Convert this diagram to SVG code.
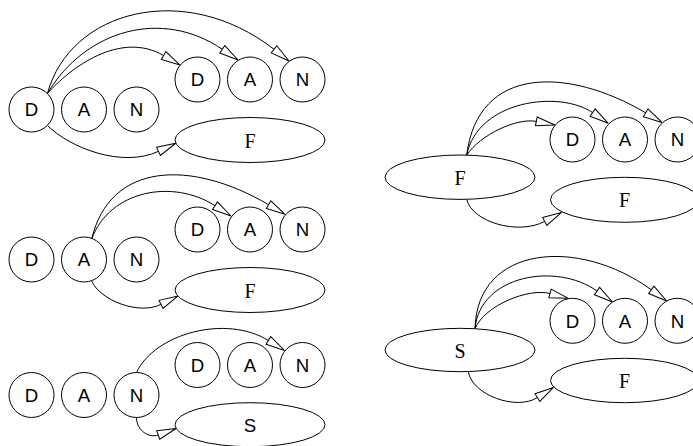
<svg xmlns="http://www.w3.org/2000/svg" width="693" height="446" viewBox="0 0 693 446">
<style>
.n{fill:#fff;stroke:#000;stroke-width:1}
.e{fill:none;stroke:#000;stroke-width:1;marker-end:url(#ah)}
.s{font-family:"Liberation Sans",Arial,sans-serif;font-size:18.67px;text-anchor:middle;fill:#000}
.r{font-family:"Liberation Serif","Times New Roman",serif;font-size:20px;text-anchor:middle;fill:#000}
</style>
<defs>
<marker id="ah" markerUnits="userSpaceOnUse" markerWidth="20" markerHeight="10" refX="0" refY="0" orient="auto" overflow="visible">
<path d="M0,-4.5 L19,0 L0,4.5 Z" fill="#fff" stroke="#000" stroke-width="1"/>
</marker>
</defs>
<rect width="693" height="446" fill="#fff"/>

<g id="edges">
 <g id="edges-p1">
  <path class="e" d="M47.4,93.6 C70,68 120,30.2 163.6,55.5"/>
  <path class="e" d="M47.4,93.6 C85,30 161.8,8 222.3,49.3"/>
  <path class="e" d="M47.4,93.6 C70,10 184.9,-20 274,49.3"/>
  <path class="e" d="M47.4,125.4 C70,148 122.3,168.2 158.5,151.3"/>
 </g>
 <g id="edges-p2" transform="translate(0,150)">
  <path class="e" d="M91.7,88.9 C110,40 173,28.7 215,55.7"/>
  <path class="e" d="M91.7,88.9 C110,12 191,9.1 268.6,54.7"/>
  <path class="e" d="M91.7,131.1 C100,150 138.6,165.5 161,154.4"/>
 </g>
 <g id="edges-p3" transform="translate(0,285.5)">
  <path class="e" d="M136.5,87 C155,48 225.9,28.75 268.4,55"/>
  <path class="e" d="M136.5,132 C136.5,145 148.8,152.9 158.2,149.5"/>
 </g>
 <g id="edges-p4">
  <path class="e" d="M466.7,155 C480,135 516.7,117.6 536.3,121.4"/>
  <path class="e" d="M466.7,155 C478,100 559.6,90 592.6,112.6"/>
  <path class="e" d="M466.7,155 C478,65 568.1,67.1 645.6,112.8"/>
  <path class="e" d="M466.7,199.3 C472,222 518.2,235.5 544.7,221.4"/>
 </g>
 <g id="edges-p5">
  <path class="e" d="M475,328.7 C485,305 528.7,287.9 550,293.5"/>
  <path class="e" d="M475,328.7 C480,275 556.3,262 597,291"/>
  <path class="e" d="M475,328.7 C477,245 578.6,236.8 651.3,289.8"/>
  <path class="e" d="M468.3,371.6 C472,395 516.3,410.9 537.4,397.6"/>
 </g>
</g>

<g id="panel1">
 <g id="p1-D"><circle class="n" cx="31.5" cy="109.5" r="22.5"/><text class="s" x="31.5" y="116.2">D</text></g>
 <g id="p1-A"><circle class="n" cx="84" cy="109.5" r="22.5"/><text class="s" x="84" y="116.2">A</text></g>
 <g id="p1-N"><circle class="n" cx="136.5" cy="109.5" r="22.5"/><text class="s" x="136.5" y="116.2">N</text></g>
 <g id="p1-D2"><circle class="n" cx="197.5" cy="79.5" r="22.5"/><text class="s" x="197.5" y="86.2">D</text></g>
 <g id="p1-A2"><circle class="n" cx="250" cy="79.5" r="22.5"/><text class="s" x="250" y="86.2">A</text></g>
 <g id="p1-N2"><circle class="n" cx="302.5" cy="79.5" r="22.5"/><text class="s" x="302.5" y="86.2">N</text></g>
 <g id="p1-F"><ellipse class="n" cx="250" cy="140" rx="75" ry="22.5"/><text class="r" x="250" y="147.5">F</text></g>
</g>

<g id="panel2" transform="translate(0,150)">
 <g id="p2-D"><circle class="n" cx="31.5" cy="109.5" r="22.5"/><text class="s" x="31.5" y="116.2">D</text></g>
 <g id="p2-A"><circle class="n" cx="84" cy="109.5" r="22.5"/><text class="s" x="84" y="116.2">A</text></g>
 <g id="p2-N"><circle class="n" cx="136.5" cy="109.5" r="22.5"/><text class="s" x="136.5" y="116.2">N</text></g>
 <g id="p2-D2"><circle class="n" cx="197.5" cy="79.5" r="22.5"/><text class="s" x="197.5" y="86.2">D</text></g>
 <g id="p2-A2"><circle class="n" cx="250" cy="79.5" r="22.5"/><text class="s" x="250" y="86.2">A</text></g>
 <g id="p2-N2"><circle class="n" cx="302.5" cy="79.5" r="22.5"/><text class="s" x="302.5" y="86.2">N</text></g>
 <g id="p2-F"><ellipse class="n" cx="250" cy="140" rx="75" ry="22.5"/><text class="r" x="250" y="147.5">F</text></g>
</g>

<g id="panel3" transform="translate(0,285.5)">
 <g id="p3-D"><circle class="n" cx="31.5" cy="109.5" r="22.5"/><text class="s" x="31.5" y="116.2">D</text></g>
 <g id="p3-A"><circle class="n" cx="84" cy="109.5" r="22.5"/><text class="s" x="84" y="116.2">A</text></g>
 <g id="p3-N"><circle class="n" cx="136.5" cy="109.5" r="22.5"/><text class="s" x="136.5" y="116.2">N</text></g>
 <g id="p3-D2"><circle class="n" cx="197.5" cy="79.5" r="22.5"/><text class="s" x="197.5" y="86.2">D</text></g>
 <g id="p3-A2"><circle class="n" cx="250" cy="79.5" r="22.5"/><text class="s" x="250" y="86.2">A</text></g>
 <g id="p3-N2"><circle class="n" cx="302.5" cy="79.5" r="22.5"/><text class="s" x="302.5" y="86.2">N</text></g>
 <g id="p3-S"><ellipse class="n" cx="250" cy="139.2" rx="75" ry="22"/><text class="s" x="250" y="146">S</text></g>
</g>

<g id="panel4">
 <g id="p4-F"><ellipse class="n" cx="460" cy="177.2" rx="75" ry="22.2"/><text class="r" x="460" y="184.7">F</text></g>
 <g id="p4-D"><circle class="n" cx="572.5" cy="139.5" r="22.5"/><text class="s" x="572.5" y="146.2">D</text></g>
 <g id="p4-A"><circle class="n" cx="625" cy="139.5" r="22.5"/><text class="s" x="625" y="146.2">A</text></g>
 <g id="p4-N"><circle class="n" cx="677.5" cy="139.5" r="22.5"/><text class="s" x="677.5" y="146.2">N</text></g>
 <g id="p4-F2"><ellipse class="n" cx="624.5" cy="199.8" rx="74" ry="22.5"/><text class="r" x="624.5" y="207.3">F</text></g>
</g>

<g id="panel5">
 <g id="p5-S"><ellipse class="n" cx="460" cy="350" rx="75" ry="21.7"/><text class="r" x="460" y="357.5">S</text></g>
 <g id="p5-D"><circle class="n" cx="572.5" cy="320.8" r="22.5"/><text class="s" x="572.5" y="327.5">D</text></g>
 <g id="p5-A"><circle class="n" cx="625" cy="320.8" r="22.5"/><text class="s" x="625" y="327.5">A</text></g>
 <g id="p5-N"><circle class="n" cx="677.5" cy="320.8" r="22.5"/><text class="s" x="677.5" y="327.5">N</text></g>
 <g id="p5-F"><ellipse class="n" cx="624.5" cy="380.5" rx="74" ry="22.2"/><text class="r" x="624.5" y="388">F</text></g>
</g>
</svg>
